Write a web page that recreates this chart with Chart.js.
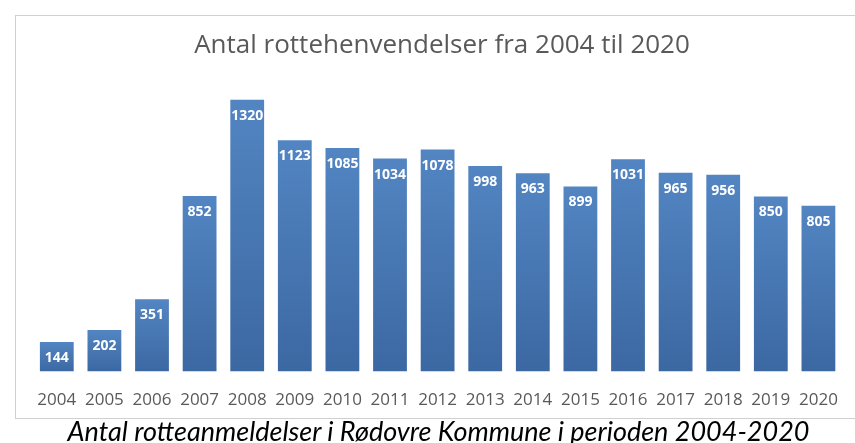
<!DOCTYPE html>
<html>
<head>
<meta charset="utf-8">
<script src="https://cdn.jsdelivr.net/npm/chart.js@4"></script>
<style>
    body { margin: 0; background: #fff; width: 855px; height: 443px; overflow: hidden; position: relative; }
    #box { position: absolute; left: 15px; top: 15px; width: 845px; height: 404px; border: 1px solid #d0d0d0; box-sizing: border-box; }
    #wrap { position: absolute; left: 0; top: 0; width: 840px; height: 421px; }
    #caption { position: absolute; left: 11px; width: 855px; top: 414px; text-align: center; font-family: Lato, sans-serif; font-style: italic; font-size: 27px; color: #000; white-space: nowrap; }
</style>
</head>
<body>
<div id="box"><div id="wrap"><canvas id="ratChart"></canvas></div></div>
<div id="caption">Antal rotteanmeldelser i Rødovre Kommune i perioden 2004-2020</div>
<script>
// Years and number of rat reports
const years = ['2004', '2005', '2006', '2007', '2008', '2009', '2010', '2011', '2012', '2013', '2014', '2015', '2016', '2017', '2018', '2019', '2020'];
const reports = [144, 202, 351, 852, 1320, 1123, 1085, 1034, 1078, 998, 963, 899, 1031, 965, 956, 850, 805];
const chartTitle = 'Antal rottehenvendelser fra 2004 til 2020';

// Per-bar vertical gradient (lighter top, darker bottom)
function barGradient(context) {
    const chart = context.chart;
    const yScale = chart.scales.y;
    if (!yScale || context.dataIndex === undefined) return '#4a7ab8';
    const top = yScale.getPixelForValue(context.raw);
    const bottom = yScale.getPixelForValue(0);
    if (!isFinite(top) || !isFinite(bottom) || top === bottom) return '#4a7ab8';
    const g = chart.ctx.createLinearGradient(0, top, 0, bottom);
    g.addColorStop(0, 'rgb(82, 133, 194)');
    g.addColorStop(1, 'rgb(60, 104, 162)');
    return g;
}

// Draw value labels inside the top of each bar
const valueLabels = {
    id: 'valueLabels',
    afterDatasetsDraw(chart) {
        const ctx = chart.ctx;
        const meta = chart.getDatasetMeta(0);
        ctx.save();
        ctx.fillStyle = '#ffffff';
        ctx.font = 'bold 14px "Open Sans", sans-serif';
        ctx.textAlign = 'center';
        ctx.textBaseline = 'middle';
        meta.data.forEach((bar, i) => {
            ctx.fillText(String(reports[i]), bar.x, bar.y + 16);
        });
        ctx.restore();
    }
};

const ctx = document.getElementById('ratChart').getContext('2d');
new Chart(ctx, {
    type: 'bar',
    data: {
        labels: years,
        datasets: [{
            data: reports,
            backgroundColor: barGradient,
            borderWidth: 0,
            categoryPercentage: 1,
            barPercentage: 0.71
        }]
    },
    options: {
        responsive: true,
        maintainAspectRatio: false,
        animation: false,
        layout: { padding: { left: 17, right: 5, top: 0, bottom: 9 } },
        plugins: {
            legend: { display: false },
            tooltip: { enabled: false },
            title: {
                display: true,
                text: chartTitle,
                color: '#595959',
                font: { family: '"Open Sans", sans-serif', size: 26, weight: 'normal' },
                padding: { top: 14, bottom: 22 }
            }
        },
        scales: {
            x: {
                grid: { display: false, drawTicks: false },
                border: { display: false },
                ticks: {
                    color: '#595959',
                    font: { family: '"Open Sans", sans-serif', size: 17 },
                    padding: 18,
                    maxRotation: 0,
                    autoSkip: false
                }
            },
            y: {
                display: false,
                min: 0,
                max: 1400
            }
        }
    },
    plugins: [valueLabels]
});
</script>
</body>
</html>
